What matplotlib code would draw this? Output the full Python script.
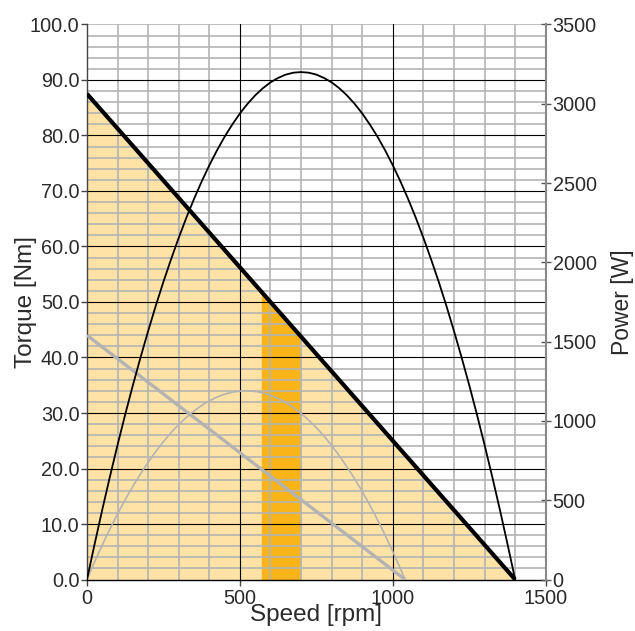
import matplotlib
matplotlib.use("Agg")
import matplotlib.pyplot as plt
import numpy as np

plt.rcParams['font.family'] = ['Liberation Sans', 'DejaVu Sans']

# Torque lines (rpm, Nm)
torque_speed = [0, 1400]
torque_max = [87.5, 0.0]
torque_speed2 = [0, 1040]
torque_rated = [44.0, 0.0]

# Highlighted operating band (rpm)
band_speed = [570, 700]

# Power curves (rpm, W)
power_speed = [0, 25, 50, 75, 100, 125, 150, 175, 200, 225, 250, 275, 300, 325, 350, 375,
               400, 425, 450, 475, 500, 525, 550, 575, 600, 625, 650, 675, 700,
               725, 750, 775, 800, 825, 850, 875, 900, 925, 950, 975, 1000, 1025, 1050,
               1075, 1100, 1125, 1150, 1175, 1200, 1225, 1250, 1275, 1300, 1325, 1350, 1375, 1400]
power_max = [0, 224, 441, 649, 849, 1041, 1225, 1400, 1567, 1727, 1878, 2020, 2155, 2282, 2400, 2510,
             2612, 2706, 2792, 2869, 2939, 3000, 3053, 3098, 3135, 3163, 3184, 3196, 3200,
             3196, 3184, 3163, 3135, 3098, 3053, 3000, 2939, 2869, 2792, 2706, 2612, 2510, 2400,
             2282, 2155, 2020, 1878, 1727, 1567, 1400, 1225, 1041, 849, 649, 441, 224, 0]
power_speed2 = [0, 20, 40, 60, 80, 100, 120, 140, 160, 180, 200, 220, 240, 260, 280, 300, 320,
                340, 360, 380, 400, 420, 440, 460, 480, 500, 520, 540, 560, 580, 600, 620, 640,
                660, 680, 700, 720, 740, 760, 780, 800, 820, 840, 860, 880, 900, 920, 940, 960,
                980, 1000, 1020, 1040]
power_rated = [0, 90, 176, 259, 338, 414, 486, 555, 620, 681, 739, 794, 845, 893, 937, 977, 1014,
               1047, 1077, 1104, 1127, 1146, 1162, 1174, 1183, 1188, 1190, 1188, 1183, 1174, 1162,
               1146, 1127, 1104, 1077, 1047, 1014, 977, 937, 893, 845, 794, 739, 681, 620, 555, 486,
               414, 338, 259, 176, 90, 0]

xticks = [0, 500, 1000, 1500]
yticks_left = [0, 10, 20, 30, 40, 50, 60, 70, 80, 90, 100]
yticks_right = [0, 500, 1000, 1500, 2000, 2500, 3000, 3500]

txt = '#2a2a2a'
grid_gray = '#b4b4b4'
light_fill = '#ffe2a6'
band_fill = '#f9b41a'
line_gray = '#b3b3b3'
TICK_FS = 14.3
LABEL_FS = 17.0

fig = plt.figure(figsize=(6.35, 6.31), dpi=100)
ax = fig.add_axes([0.137, 0.0816, 0.7224, 0.8796])
ax.set_xlim(0, 1500)
ax.set_ylim(0, 100)

# fills
ts = np.array(torque_speed, float)
tv = np.array(torque_max, float)
ax.fill_between(ts, 0, tv, color=light_fill, lw=0, zorder=0.2)
bx = np.array(band_speed, float)
by = np.interp(bx, ts, tv)
ax.fill_between(bx, 0, by, color=band_fill, lw=0, zorder=0.3)

# manual grid
for x in range(100, 1500, 100):
    if x % 500 == 0:
        ax.axvline(x, color='black', lw=0.8, zorder=0.6)
    else:
        ax.axvline(x, color=grid_gray, lw=1.2, zorder=0.5)
for y in range(2, 101, 2):
    if y % 10 == 0 and y != 100:
        ax.axhline(y, color='black', lw=0.8, zorder=0.6)
    else:
        ax.axhline(y, color=grid_gray, lw=1.2, zorder=0.5)

ax.plot(torque_speed2, torque_rated, color=line_gray, lw=2.4, zorder=3, solid_capstyle='butt')
ax.plot(torque_speed, torque_max, color='black', lw=3.0, zorder=4, solid_capstyle='butt')

ax.set_xticks(xticks)
ax.set_yticks(yticks_left)
ax.set_yticklabels([f"{v:.1f}" for v in yticks_left])
ax.tick_params(axis='both', direction='out', length=4, width=1, colors='#444444',
               labelcolor=txt, labelsize=TICK_FS, pad=1.5)
ax.tick_params(axis='x', pad=3)
ax.spines['top'].set_visible(False)
ax.spines['right'].set_visible(False)
ax.spines['left'].set_color('#444444')
ax.spines['bottom'].set_color('black')
ax.spines['left'].set_linewidth(1.0)
ax.spines['bottom'].set_linewidth(1.0)
ax.set_xlabel('Speed [rpm]', fontsize=LABEL_FS + 0.5, color=txt, labelpad=-3)
ax.set_ylabel('Torque [Nm]', fontsize=LABEL_FS + 0.5, color=txt, labelpad=-5)

ax2 = ax.twinx()
ax2.set_ylim(0, 3500)
ax2.set_xlim(0, 1500)
ax2.patch.set_visible(False)
ax2.plot(power_speed2, power_rated, color=line_gray, lw=1.2, zorder=3)
ax2.plot(power_speed, power_max, color='black', lw=1.3, zorder=4)
ax2.set_yticks(yticks_right)
ax2.tick_params(axis='y', direction='inout', length=7, width=1, colors='#555555',
                labelcolor=txt, labelsize=TICK_FS, pad=1.5)
for s in ['top', 'left', 'bottom']:
    ax2.spines[s].set_visible(False)
ax2.spines['right'].set_color('#888888')
ax2.spines['right'].set_linewidth(1.5)
ax2.set_ylabel('Power [W]', fontsize=LABEL_FS - 0.5, color=txt, labelpad=10)

fig.savefig('out.png', dpi=100)
